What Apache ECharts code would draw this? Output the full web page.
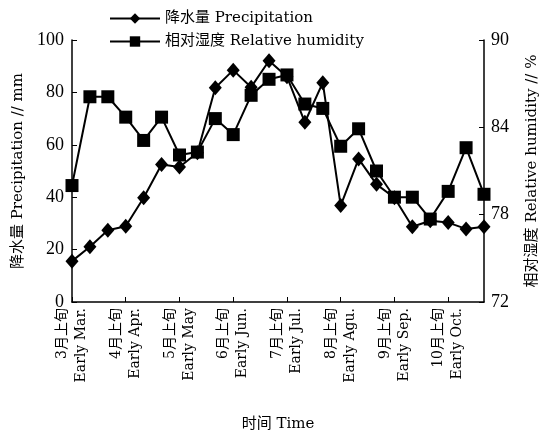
<!DOCTYPE html>
<html>
<head>
<meta charset="utf-8">
<script src="https://cdn.jsdelivr.net/npm/echarts@6/dist/echarts.min.js"></script>
<style>html,body{margin:0;padding:0;background:#fff}#c{width:541px;height:435px}</style>
</head>
<body>
<div id="c"></div>
<script>
const categories = [
  '3月上旬','3月中旬','3月下旬','4月上旬','4月中旬','4月下旬',
  '5月上旬','5月中旬','5月下旬','6月上旬','6月中旬','6月下旬',
  '7月上旬','7月中旬','7月下旬','8月上旬','8月中旬','8月下旬',
  '9月上旬','9月中旬','9月下旬','10月上旬','10月中旬','10月下旬'
];
const englishLabels = {
  '3月上旬':'Early Mar.','4月上旬':'Early Apr.','5月上旬':'Early May','6月上旬':'Early Jun.',
  '7月上旬':'Early Jul.','8月上旬':'Early Agu.','9月上旬':'Early Sep.','10月上旬':'Early Oct.'
};
const precipitation = [15.6,21.1,27.4,28.9,39.8,52.5,51.5,57.0,81.8,88.5,82.0,92.1,
                       86.0,68.6,83.7,36.8,54.6,44.9,39.8,28.7,31.0,30.3,27.9,28.7];
const humidity = [80.0,86.1,86.1,84.7,83.1,84.7,82.1,82.3,84.6,83.5,86.2,87.3,
                  87.6,85.6,85.3,82.7,83.9,81.0,79.2,79.2,77.7,79.6,82.6,79.4];
const leftTicks = {min:0, max:100, interval:20};
const rightTicks = {min:72, max:90, interval:6};

const FONT = "'DejaVu Serif', 'Noto Sans CJK SC', serif";
const NUMFONT = "'Liberation Serif', serif";
const chart = echarts.init(document.getElementById('c'));
chart.setOption({
  animation:false,
  textStyle:{fontFamily:FONT, color:'#000'},
  legend:{
    orient:'vertical', left:104, top:6, itemWidth:50, itemHeight:13, itemGap:8,
    textStyle:{fontFamily:FONT, fontSize:15, color:'#000'},
    data:['降水量 Precipitation','相对湿度 Relative humidity']
  },
  grid:{left:72, right:57, top:40, bottom:133, containLabel:false, outerBoundsMode:'none'},
  xAxis:{
    type:'category', data:categories, boundaryGap:false,
    name:'时间 Time', nameLocation:'middle', nameGap:115,
    nameTextStyle:{fontFamily:FONT, fontSize:15, color:'#000'},
    axisLine:{lineStyle:{color:'#000', width:1.5}},
    axisTick:{inside:true, interval:2, length:5, lineStyle:{color:'#000'}},
    axisLabel:{
      interval:2, rotate:90, fontSize:14, lineHeight:19, color:'#000', fontFamily:FONT, margin:6,
      formatter:(v)=> v + '\n' + (englishLabels[v]||'')
    }
  },
  yAxis:[
    {
      type:'value', min:leftTicks.min, max:leftTicks.max, interval:leftTicks.interval,
      name:'降水量 Precipitation // mm', nameLocation:'middle', nameGap:46, nameRotate:90,
      nameTextStyle:{fontFamily:FONT, fontSize:15, color:'#000'},
      axisLine:{show:true, lineStyle:{color:'#000', width:1.5}},
      axisTick:{show:true, inside:true, length:5, lineStyle:{color:'#000'}},
      axisLabel:{fontSize:18, color:'#000', fontFamily:NUMFONT, margin:8},
      splitLine:{show:false}
    },
    {
      type:'value', min:rightTicks.min, max:rightTicks.max, interval:rightTicks.interval,
      name:'相对湿度 Relative humidity // %', nameLocation:'middle', nameGap:41, nameRotate:90,
      nameTextStyle:{fontFamily:FONT, fontSize:15, color:'#000'},
      axisLine:{show:true, lineStyle:{color:'#000', width:1.5}},
      axisTick:{show:true, inside:true, length:5, lineStyle:{color:'#000'}},
      axisLabel:{fontSize:18, color:'#000', fontFamily:NUMFONT, margin:7},
      splitLine:{show:false}
    }
  ],
  series:[
    {
      name:'降水量 Precipitation', type:'line', yAxisIndex:0, data:precipitation,
      symbol:'diamond', symbolSize:[13,15], showAllSymbol:true,
      lineStyle:{color:'#000', width:2}, itemStyle:{color:'#000'}
    },
    {
      name:'相对湿度 Relative humidity', type:'line', yAxisIndex:1, data:humidity,
      symbol:'rect', symbolSize:13, showAllSymbol:true,
      lineStyle:{color:'#000', width:2}, itemStyle:{color:'#000'}
    }
  ]
});
</script>
</body>
</html>
